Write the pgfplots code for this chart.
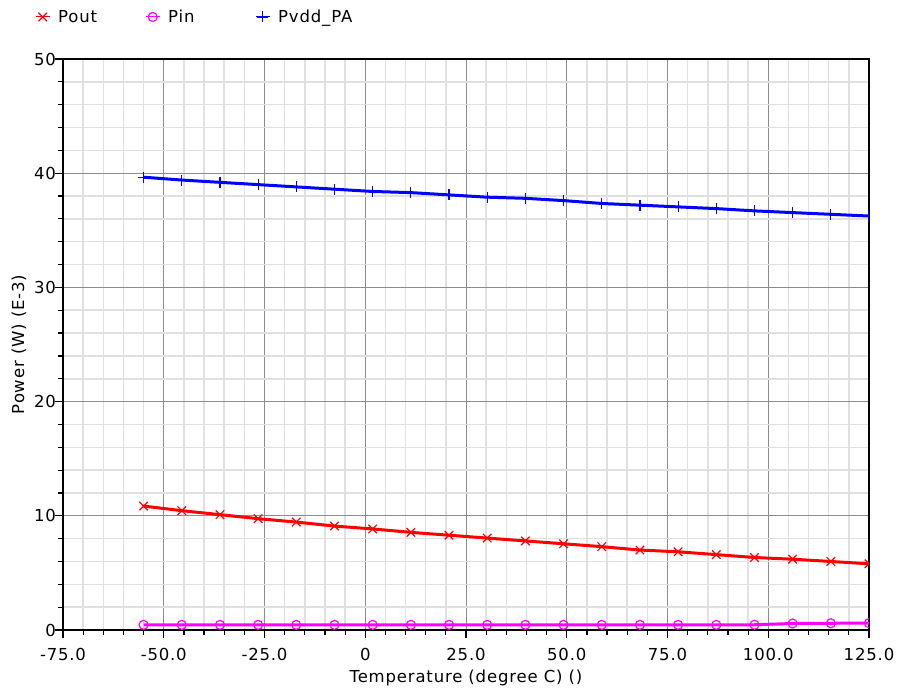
\documentclass[border=0pt]{standalone}
\usepackage{pgfplots}
\pgfplotsset{compat=1.18}
\usepackage{fontspec}
\setmainfont{DejaVu Sans}[LetterSpace=5]
\definecolor{pinc}{RGB}{255,0,255}
\begin{document}
\begin{tikzpicture}
\path[use as bounding box] (-63pt,-61pt) rectangle (836pt,630pt);
\begin{axis}[
  scale only axis, width=806pt, height=571pt,
  xmin=-75, xmax=125, ymin=0, ymax=50,
  xtick={-75,-50,...,125}, ytick={0,10,...,50},
  xticklabels={-75.0,-50.0,-25.0,0,25.0,50.0,75.0,100.0,125.0},
  yticklabels={0,10,20,30,40,50},
  minor x tick num=4, minor y tick num=4,
  grid=both,
  major grid style={draw=black!45, line width=1pt},
  minor grid style={draw=black!12, line width=1.5pt},
  tick align=outside,
  major tick length=7.5pt, minor tick length=4.5pt,
  tick style={black, line width=1.2pt},
  xtick pos=bottom, ytick pos=left,
  axis line style={black, line width=1.2pt},
  font=\fontsize{16.5}{19}\selectfont,
  xticklabel style={yshift=-7pt},
  yticklabel style={xshift=4pt},
  xlabel={Temperature (degree C) ()},
  ylabel={Power (W) (E-3)},
  xlabel style={at={(axis description cs:0.5,-0.0841)}, anchor=center},
  ylabel style={at={(axis description cs:-0.0546,0.5)}, anchor=center},
  clip marker paths=true,
  legend columns=3,
  legend style={at={(-0.0347,1.0736)}, anchor=west, draw=none, fill=none,
    inner sep=0pt, font=\fontsize{16.5}{19}\selectfont,
    /tikz/every even column/.append style={column sep=0pt},
    /tikz/every odd column/.append style={column sep=6pt}},
  legend image code/.code={\draw[mark repeat=2,mark phase=2,#1,line width=1pt]
    plot coordinates {(0pt,0pt) (7pt,0pt) (14pt,0pt)};},
]
\addplot[red, line width=3pt, mark=x, mark size=6pt, mark options={line width=1.2pt}] coordinates {
(-55,10.85) (-45.53,10.45) (-36.05,10.1) (-26.58,9.75) (-17.11,9.45) (-7.63,9.1)
(1.84,8.85) (11.32,8.55) (20.79,8.3) (30.26,8.05) (39.74,7.8) (49.21,7.55)
(58.68,7.3) (68.16,7.0) (77.63,6.85) (87.11,6.6) (96.58,6.35) (106.05,6.2)
(115.53,6.0) (125,5.8)};
\addlegendentry{\makebox[85pt][l]{Pout}}
\addplot[pinc, line width=3pt, mark=o, mark size=4.5pt, mark options={line width=1.2pt}] coordinates {
(-55,0.45) (-45.53,0.45) (-36.05,0.45) (-26.58,0.45) (-17.11,0.45) (-7.63,0.45)
(1.84,0.45) (11.32,0.45) (20.79,0.45) (30.26,0.45) (39.74,0.45) (49.21,0.45)
(58.68,0.45) (68.16,0.45) (77.63,0.45) (87.11,0.45) (96.58,0.46) (106.05,0.57)
(115.53,0.59) (125,0.6)};
\addlegendentry{\makebox[85pt][l]{Pin}}
\addplot[blue, line width=3pt, mark=+, mark size=5.5pt, mark options={line width=1.2pt}] coordinates {
(-55,39.65) (-45.53,39.4) (-36.05,39.2) (-26.58,39.0) (-17.11,38.8) (-7.63,38.6)
(1.84,38.4) (11.32,38.3) (20.79,38.1) (30.26,37.9) (39.74,37.8) (49.21,37.6)
(58.68,37.35) (68.16,37.2) (77.63,37.05) (87.11,36.9) (96.58,36.7) (106.05,36.55)
(115.53,36.4) (125,36.25)};
\addlegendentry{Pvdd\_PA}
\end{axis}
\end{tikzpicture}
\end{document}
